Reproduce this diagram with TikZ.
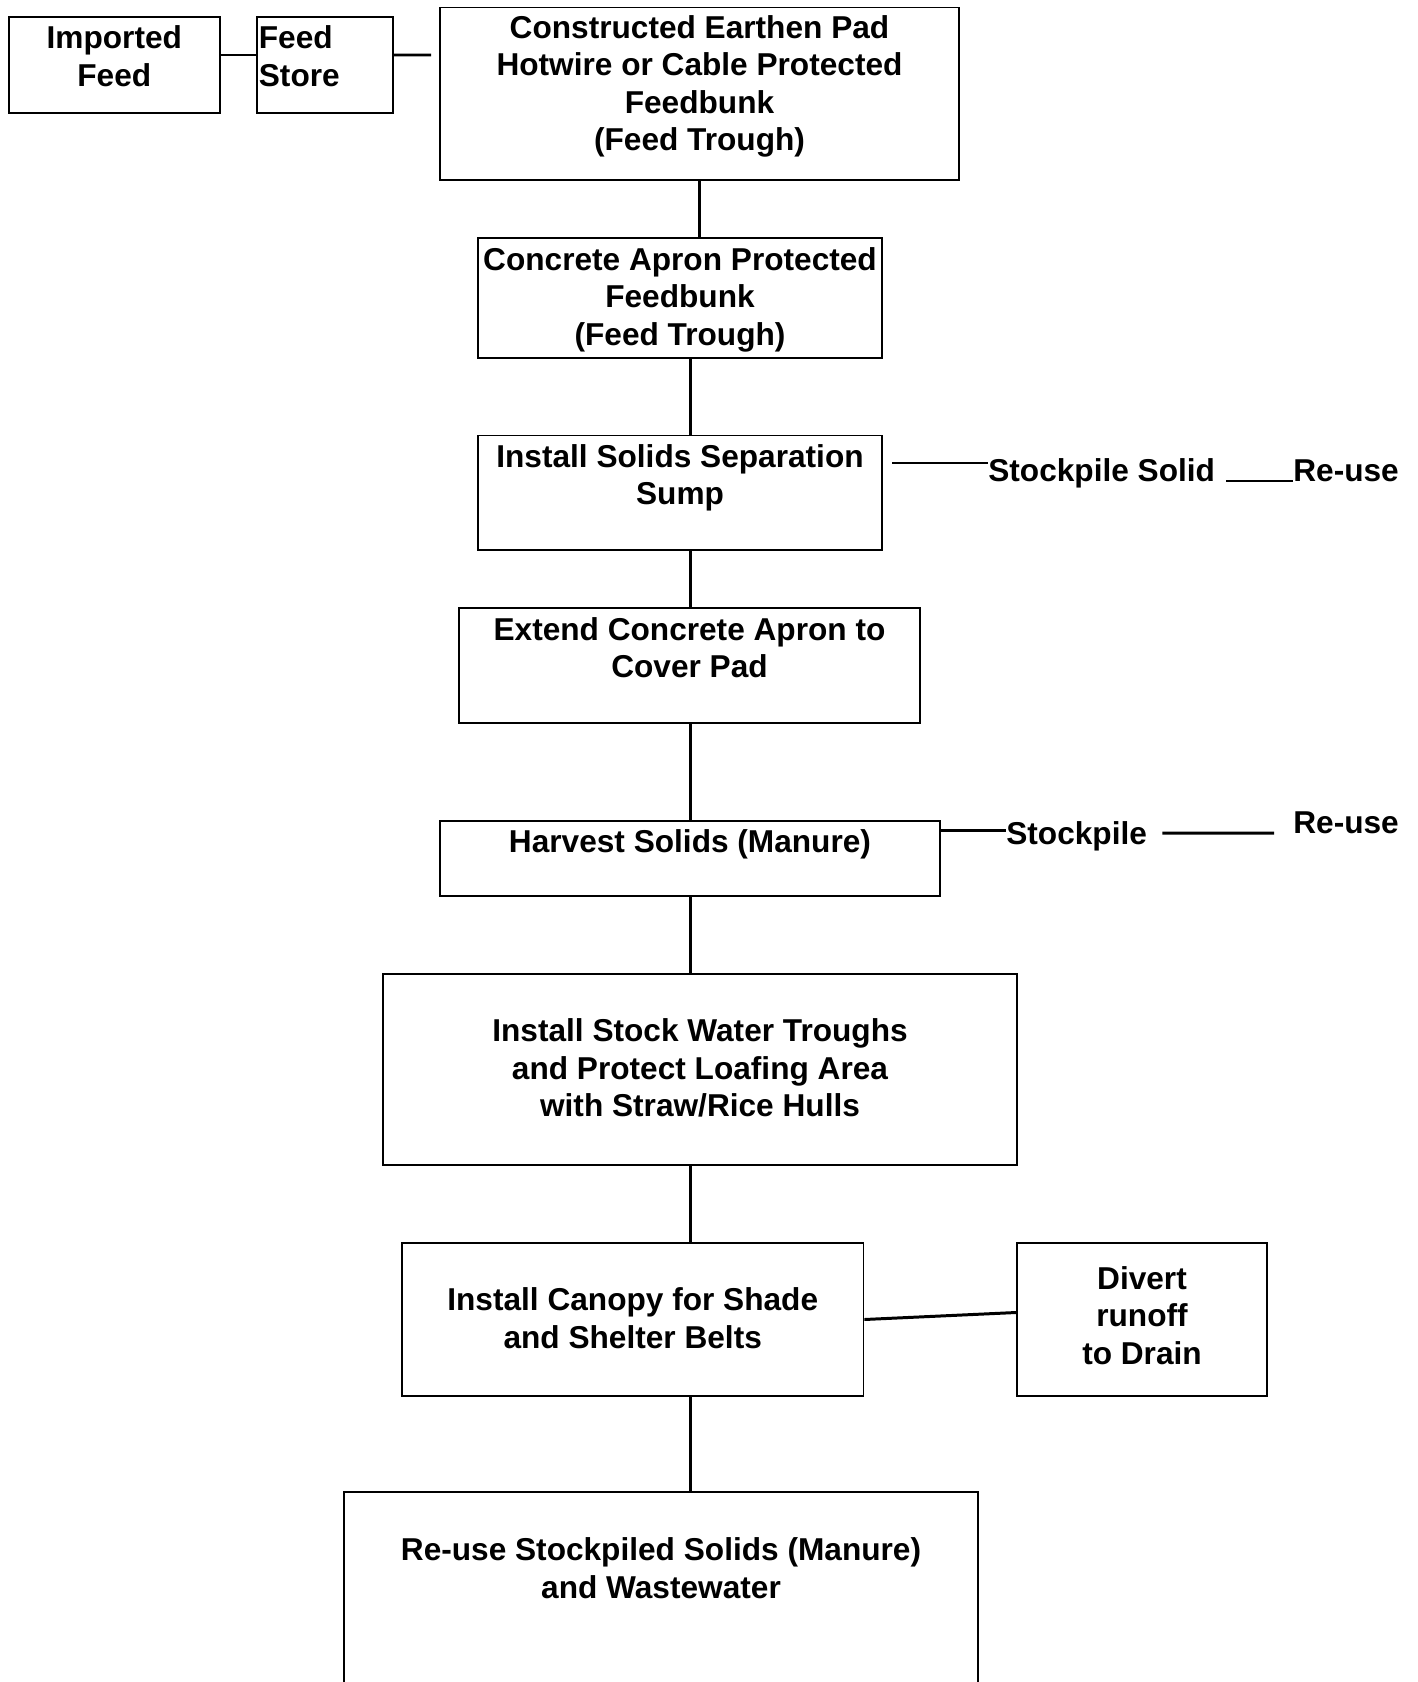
\documentclass[tikz,border=0pt]{standalone}
\usepackage{fontspec}
\setmainfont{Liberation Sans}
\usepackage{tikz}
\usetikzlibrary{positioning}
\tikzset{
  box/.style={rectangle, draw, line width=1.1pt, inner sep=0pt},
  boxtext/.style={align=center, inner sep=0pt, font=\bfseries\fontsize{18}{21.3}\selectfont},
  tag/.style={inner sep=0pt, font=\bfseries\fontsize{18}{21.3}\selectfont},
  link/.style={line width=1.7pt},
}

\begin{document}
\begin{tikzpicture}[x=0.02cm, y=-0.02cm]
  \useasboundingbox (0,0) rectangle (1417,1682);
  \clip (0,0) rectangle (1417,1682);

  % feed supply
  \node[box, minimum width=4.23cm, minimum height=1.92cm] (imported) at (114.3,65) {};
  \node[boxtext, below=0.19cm of imported.north] (importedtxt) {Imported\\Feed};
  \node[box, minimum width=2.72cm, minimum height=1.92cm] (store) at (325,65) {};
  \node[boxtext, align=left, below right=0.19cm and 0.05cm of store.north west] (storetxt) {Feed\\Store};

  % main steps
  \node[box, minimum width=10.38cm, minimum height=3.45cm] (pad) at (699.5,93.75) {};
  \node[boxtext, below=0.17cm of pad.north] (padtxt) {Constructed Earthen Pad\\Hotwire or Cable Protected\\Feedbunk\\(Feed Trough)};
  \node[box, minimum width=8.08cm, minimum height=2.4cm] (apron) at (680,298) {};
  \node[boxtext, below=0.2cm of apron.north] (aprontxt) {Concrete Apron Protected\\Feedbunk\\(Feed Trough)};
  \node[box, minimum width=8.08cm, minimum height=2.29cm] (sump) at (680,492.75) {};
  \node[boxtext, below=0.19cm of sump.north] (sumptxt) {Install Solids Separation\\Sump};
  \node[box, minimum width=9.22cm, minimum height=2.3cm] (extend) at (689.5,665.5) {};
  \node[boxtext, below=0.2cm of extend.north] (extendtxt) {Extend Concrete Apron to\\Cover Pad};
  \node[box, minimum width=10cm, minimum height=1.5cm] (harvest) at (690,858.5) {};
  \node[boxtext, below=0.18cm of harvest.north] (harvesttxt) {Harvest Solids (Manure)};
  \node[box, minimum width=12.68cm, minimum height=3.82cm] (troughs) at (700,1069.5) {};
  \node[boxtext, below=0.91cm of troughs.north] (troughstxt) {Install Stock Water Troughs\\and Protect Loafing Area\\with Straw/Rice Hulls};
  \node[box, minimum width=9.23cm, minimum height=3.06cm] (canopy) at (632.75,1319.5) {};
  \node[boxtext, below=0.91cm of canopy.north] (canopytxt) {Install Canopy for Shade\\and Shelter Belts};
  \node[box, minimum width=5cm, minimum height=3.06cm] (divert) at (1142,1319.5) {};
  \node[boxtext, below=0.48cm of divert.north] (diverttxt) {Divert\\runoff\\to Drain};
  \node[box, minimum width=12.68cm, minimum height=5.36cm] (reuse) at (661,1626) {};
  \node[boxtext, below=0.93cm of reuse.north] (reusetxt) {Re-use Stockpiled Solids (Manure)\\and Wastewater};

  % side outputs
  \node[tag, anchor=base west] (stocksolid) at (988,481) {Stockpile Solid};
  \node[tag, anchor=base west] (reusea) at (1293,481) {Re-use};
  \node[tag, anchor=base west] (stockpile) at (1006,844) {Stockpile};
  \node[tag, anchor=base west] (reuseb) at (1293,833) {Re-use};

  \coordinate (padin) at (431,55);
  \coordinate (spine) at (690,0);
  \coordinate (sumpout) at (892,463);
  \coordinate (harvestout) at ([yshift=-0.2cm]harvest.north east);

  \draw[link] ([yshift=0.2cm]imported.east) -- ([yshift=0.2cm]store.west);
  \draw[link] ([yshift=0.2cm]store.east) -- (padin);
  \draw[link] (pad.south) -- (pad.south |- apron.north);
  \draw[link] (apron.south -| spine) -- (sump.north -| spine);
  \draw[link] (sump.south -| spine) -- (extend.north -| spine);
  \draw[link] (extend.south -| spine) -- (harvest.north -| spine);
  \draw[link] (harvest.south -| spine) -- (troughs.north -| spine);
  \draw[link] (troughs.south -| spine) -- (canopy.north -| spine);
  \draw[link] (canopy.south -| spine) -- (reuse.north -| spine);

  \draw[link] (sumpout) -- (sumpout -| stocksolid.west);
  \draw[link] ([xshift=0.22cm]stocksolid.base east) -- (reusea.base west);
  \draw[link] (harvestout) -- (harvestout -| stockpile.west);
  \draw[link] ([xshift=0.3cm, yshift=0.22cm]stockpile.base east) -- ([xshift=-0.38cm]reuseb.base west);
  \draw[link] (canopy.east) -- ([yshift=0.14cm]divert.west);

\end{tikzpicture}
\end{document}
